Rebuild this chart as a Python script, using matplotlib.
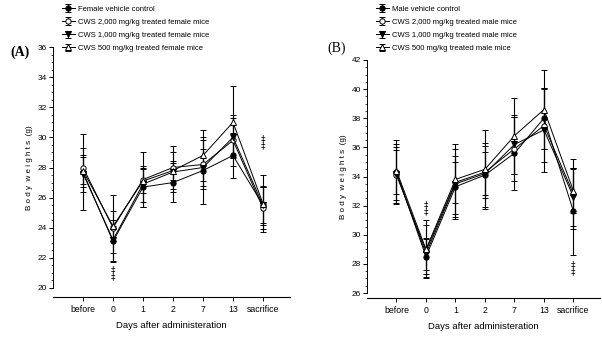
import matplotlib
matplotlib.use("Agg")
import matplotlib.pyplot as plt
from matplotlib.ticker import MultipleLocator
from matplotlib import font_manager

names = {f.name for f in font_manager.fontManager.ttflist}
SANS = 'Liberation Sans Narrow' if 'Liberation Sans Narrow' in names else 'Liberation Sans'
plt.rcParams['font.family'] = [SANS, 'DejaVu Sans']

days = ['before', '0', '1', '2', '7', '13', 'sacrifice']

# Panel A (female)
fem_vehicle = [27.7, 23.1, 26.7, 27.0, 27.8, 28.8, 25.5]
fem_vehicle_sd = [2.5, 1.4, 1.3, 1.3, 2.2, 1.5, 1.3]
fem_2000 = [28.0, 24.0, 27.2, 28.0, 28.2, 29.8, 25.3]
fem_2000_sd = [1.3, 2.2, 1.8, 1.4, 1.6, 1.7, 1.4]
fem_1000 = [27.6, 23.2, 26.9, 27.7, 28.0, 30.0, 25.5]
fem_1000_sd = [1.2, 0.9, 1.2, 1.3, 1.2, 1.3, 1.2]
fem_500 = [27.8, 24.1, 27.1, 27.8, 28.8, 31.0, 25.6]
fem_500_sd = [0.9, 1.0, 0.8, 0.6, 1.7, 2.4, 1.9]

# Panel B (male)
male_vehicle = [34.3, 28.5, 33.3, 34.1, 35.6, 38.0, 31.6]
male_vehicle_sd = [2.2, 1.2, 2.1, 2.2, 2.5, 2.1, 3.0]
male_2000 = [34.1, 28.9, 33.6, 34.3, 35.9, 37.5, 32.8]
male_2000_sd = [1.7, 1.8, 1.4, 1.8, 2.2, 2.5, 2.4]
male_1000 = [34.2, 28.7, 33.5, 34.2, 36.2, 37.2, 32.6]
male_1000_sd = [2.0, 1.1, 2.4, 1.5, 2.0, 2.9, 2.0]
male_500 = [34.4, 29.0, 33.8, 34.5, 36.8, 38.6, 33.0]
male_500_sd = [1.6, 2.0, 2.4, 2.7, 2.6, 2.7, 1.5]

fem_labels = ['Female vehicle control', 'CWS 2,000 mg/kg treated female mice',
              'CWS 1,000 mg/kg treated female mice', 'CWS 500 mg/kg treated female mice']
male_labels = ['Male vehicle control', 'CWS 2,000 mg/kg treated male mice',
               'CWS 1,000 mg/kg treated male mice', 'CWS 500 mg/kg treated male mice']

styles = [dict(marker='o', mfc='black'), dict(marker='o', mfc='white'),
          dict(marker='v', mfc='black'), dict(marker='^', mfc='white')]

fig = plt.figure(figsize=(6.02, 3.39), dpi=100)
axA = fig.add_axes([53/602, 51/339, 237/602, 241/339])
axB = fig.add_axes([367/602, 46/339, 233/602, 233/339])


def draw(ax, series, sds, labels, ylim, offset):
    x = list(range(len(days)))
    handles = []
    for ys, sd, lab, st in zip(series, sds, labels, styles):
        h = ax.errorbar(x, ys, yerr=sd, color='black', lw=0.7, elinewidth=0.8,
                        capsize=2.5, capthick=0.8, markersize=3.8, mec='black',
                        mew=0.7, label=lab, **st)
        handles.append(h)
    ax.set_xlim(-1, 6.9)
    ax.set_ylim(*ylim)
    ax.set_xticks(x)
    ax.set_xticklabels(days)
    ax.yaxis.set_major_locator(MultipleLocator(2))
    ax.yaxis.set_minor_locator(MultipleLocator(0.5))
    ax.tick_params(axis='y', which='major', length=3, width=0.7, labelsize=6, pad=1.5)
    ax.tick_params(axis='y', which='minor', length=1.5, width=0.5)
    ax.tick_params(axis='x', length=3, width=0.7, pad=3, labelsize=6.3)
    for s in ['top', 'right']:
        ax.spines[s].set_visible(False)
    ax.spines['bottom'].set_position(('outward', offset))
    ax.spines['left'].set_linewidth(0.7)
    ax.spines['bottom'].set_linewidth(0.8)
    ax.set_xlabel('Days after administeration', fontsize=6.8, labelpad=5)
    ax.set_ylabel('B o d y  w e i g h t s  (g)', fontsize=5.8, labelpad=3)
    return handles


hA = draw(axA, [fem_vehicle, fem_2000, fem_1000, fem_500],
          [fem_vehicle_sd, fem_2000_sd, fem_1000_sd, fem_500_sd], fem_labels, (20, 36), 6.5)
hB = draw(axB, [male_vehicle, male_2000, male_1000, male_500],
          [male_vehicle_sd, male_2000_sd, male_1000_sd, male_500_sd], male_labels, (26, 42), 3.5)

# significance marks
mark = dict(ha='center', va='center', fontsize=6.5, linespacing=0.75, family='DejaVu Sans')
axA.text(1, 21.0, '‡\n‡', **mark)
axA.text(6, 29.7, '‡\n‡', **mark)
axB.text(1, 31.8, '‡\n‡', **mark)
axB.text(6, 27.7, '‡\n‡', **mark)

for h, lab, x0 in [(hA, fem_labels, 60), (hB, male_labels, 374)]:
    fig.legend(h, lab, loc='upper left', bbox_to_anchor=(x0/602, 1 - 4/339),
               frameon=False, fontsize=5.5, handlelength=1.8, handletextpad=0.4,
               labelspacing=0.75, borderpad=0.2, borderaxespad=0)

fig.text(10/602, 1 - 52/339, '(A)', fontsize=10, fontweight='bold', family='Liberation Serif', va='center')
fig.text(327/602, 1 - 48/339, '(B)', fontsize=10, family='Liberation Serif', va='center')

fig.savefig('out.png', dpi=100)
